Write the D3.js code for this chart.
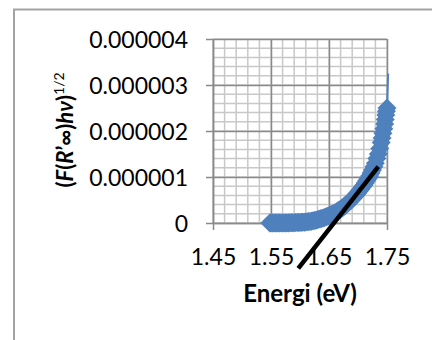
<!DOCTYPE html>
<html lang="id">
<head>
<meta charset="utf-8">
<title>Energi vs (F(R'∞)hν)^1/2</title>
<script src="https://cdn.jsdelivr.net/npm/d3@7"></script>
<style>
  body { margin: 0; background: #fff; }
  svg { display: block; font-family: Lato, "Open Sans", sans-serif; }
</style>
</head>
<body>
<script>
// data (y values in units of 0.000001)
var energi = [1.548, 1.550, 1.5525, 1.555, 1.5575, 1.560, 1.5625, 1.565, 1.5675, 1.570,
              1.5725, 1.575, 1.5775, 1.580, 1.5825, 1.585, 1.5875, 1.590, 1.5925, 1.595,
              1.5975, 1.600, 1.6025, 1.605, 1.6075, 1.610, 1.6125, 1.615, 1.6175, 1.620,
              1.6225, 1.625, 1.6275, 1.630, 1.6325, 1.635, 1.6375, 1.640, 1.6425, 1.645,
              1.6475, 1.650, 1.6525, 1.655, 1.6575, 1.660, 1.6625, 1.665, 1.6675, 1.670,
              1.6725, 1.675, 1.6775, 1.680, 1.6825, 1.685, 1.6875, 1.690, 1.6925, 1.695,
              1.6975, 1.700, 1.7025, 1.705, 1.7075, 1.710, 1.7125, 1.715, 1.7175, 1.720,
              1.7225, 1.725, 1.7275, 1.730, 1.7325, 1.735, 1.7375, 1.740, 1.7415, 1.743,
              1.7445, 1.746, 1.747, 1.748, 1.749, 1.750];
var nilai = [0, 0, 0, 0, 0, 0, 0, 0, 0, 0,
             0, 0, 0.001, 0.002, 0.003, 0.005, 0.006, 0.008, 0.009, 0.010,
             0.012, 0.013, 0.015, 0.017, 0.019, 0.022, 0.026, 0.030, 0.035, 0.040,
             0.047, 0.055, 0.062, 0.070, 0.080, 0.090, 0.100, 0.110, 0.122, 0.135,
             0.147, 0.160, 0.175, 0.190, 0.205, 0.220, 0.240, 0.260, 0.280, 0.300,
             0.325, 0.350, 0.375, 0.400, 0.430, 0.460, 0.490, 0.520, 0.555, 0.590,
             0.625, 0.660, 0.700, 0.740, 0.780, 0.820, 0.870, 0.920, 0.970, 1.020,
             1.085, 1.150, 1.225, 1.300, 1.400, 1.500, 1.620, 1.750, 1.85, 1.95,
             2.05, 2.15, 2.25, 2.35, 2.43, 2.50];
// last points, drawn only as a thin line
var ekorEnergi = [1.75, 1.751, 1.752];
var ekorNilai = [2.5, 2.9, 3.25];
// black tangent line
var garisEnergi = [1.597, 1.735];
var garisNilai = [-0.985, 1.224];

var xTicks = [1.45, 1.55, 1.65, 1.75];
var xLabels = ["1.45", "1.55", "1.65", "1.75"];
var yTicks = [0, 1, 2, 3, 4];
var yLabels = ["0", "0.000001", "0.000002", "0.000003", "0.000004"];

var W = 432, H = 340;
var plotL = 213, plotR = 387, plotT = 39, plotB = 223;

var svg = d3.select("body").append("svg")
    .attr("width", W)
    .attr("height", H);

// outer chart border (cut off at right/bottom)
svg.append("rect")
    .attr("x", 14).attr("y", 9.5)
    .attr("width", W).attr("height", H)
    .attr("fill", "#fff")
    .attr("stroke", "#a3a3a3")
    .attr("stroke-width", 2);

var x = d3.scaleLinear().domain([1.45, 1.75]).range([plotL, plotR]);
var y = d3.scaleLinear().domain([0, 4]).range([plotB, plotT]);

// minor grid
var xMinor = d3.range(0, 16).map(function(i) { return 1.45 + i * 0.02; });
var yMinor = d3.range(0, 21).map(function(i) { return i * 0.2; });

svg.append("g").selectAll("line")
    .data(xMinor).enter().append("line")
    .attr("x1", function(d) { return x(d); }).attr("x2", function(d) { return x(d); })
    .attr("y1", plotT).attr("y2", plotB)
    .attr("stroke", "#c8c8c8").attr("stroke-width", 1.5);
svg.append("g").selectAll("line")
    .data(yMinor).enter().append("line")
    .attr("x1", plotL).attr("x2", plotR)
    .attr("y1", function(d) { return y(d); }).attr("y2", function(d) { return y(d); })
    .attr("stroke", "#c8c8c8").attr("stroke-width", 1.5);

// major grid + axes
var xAxis = d3.axisBottom(x).tickValues(xTicks)
    .tickFormat(function(d, i) { return xLabels[i]; })
    .tickSizeInner(-(plotB - plotT)).tickSizeOuter(0).tickPadding(0);
var yAxis = d3.axisLeft(y).tickValues(yTicks)
    .tickFormat(function(d, i) { return yLabels[i]; })
    .tickSizeInner(-(plotR - plotL)).tickSizeOuter(0);

var gx = svg.append("g").attr("transform", "translate(0," + plotB + ")").call(xAxis);
var gy = svg.append("g").attr("transform", "translate(" + plotL + ",0)").call(yAxis);

[gx, gy].forEach(function(g) {
  g.select(".domain").attr("stroke", "#8a8a8a").attr("stroke-width", 1.5);
  g.selectAll(".tick line").attr("stroke", "#8a8a8a").attr("stroke-width", 1.5);
  g.selectAll(".tick text")
      .attr("fill", "#000")
      .style("font-size", "23px")
      .style("font-family", "Lato, sans-serif");
});
// small outside tick marks
gx.selectAll(".tick").append("line")
    .attr("y1", 0).attr("y2", 7).attr("stroke", "#8a8a8a").attr("stroke-width", 1.5);
gy.selectAll(".tick").append("line")
    .attr("x1", 0).attr("x2", -7).attr("stroke", "#8a8a8a").attr("stroke-width", 1.5);
gx.selectAll(".tick text").attr("y", 42).attr("dy", 0);
gy.selectAll(".tick text").attr("x", -25).attr("dy", "0.35em");

// series thin line
var pts = energi.map(function(e, i) { return [e, nilai[i]]; });
var ekor = ekorEnergi.map(function(e, i) { return [e, ekorNilai[i]]; });
var line = d3.line()
    .x(function(d) { return x(d[0]); })
    .y(function(d) { return y(d[1]); });

svg.append("path")
    .datum(pts.concat(ekor.slice(1)))
    .attr("d", line)
    .attr("fill", "none")
    .attr("stroke", "#4f81bd")
    .attr("stroke-width", 2);

// diamond markers
var r = 9.5;
svg.append("g").selectAll("path")
    .data(pts).enter().append("path")
    .attr("transform", function(d) { return "translate(" + x(d[0]) + "," + y(d[1]) + ")"; })
    .attr("d", "M0," + (-r) + "L" + r + ",0L0," + r + "L" + (-r) + ",0Z")
    .attr("fill", "#4f81bd");

// black tangent line
var garis = garisEnergi.map(function(e, i) { return [e, garisNilai[i]]; });
svg.append("path")
    .datum(garis)
    .attr("d", line)
    .attr("fill", "none")
    .attr("stroke", "#000")
    .attr("stroke-width", 4.5);

// axis titles
svg.append("text")
    .attr("x", 300).attr("y", 302)
    .attr("text-anchor", "middle")
    .style("font-size", "24px")
    .style("font-weight", "bold")
    .text("Energi (eV)");

var yt = svg.append("text")
    .attr("transform", "translate(73,130) rotate(-90)")
    .attr("text-anchor", "middle")
    .style("font-size", "22px")
    .style("font-weight", "bold");
yt.append("tspan").text("(");
yt.append("tspan").style("font-style", "italic").text("F");
yt.append("tspan").text("(");
yt.append("tspan").style("font-style", "italic").text("R");
yt.append("tspan").text("\u2019\u221e)");
yt.append("tspan").style("font-style", "italic").text("h\u03bd");
yt.append("tspan").text(")");
yt.append("tspan")
    .attr("dy", -9)
    .style("font-size", "14px")
    .style("font-weight", "normal")
    .text("1/2");
</script>
</body>
</html>
